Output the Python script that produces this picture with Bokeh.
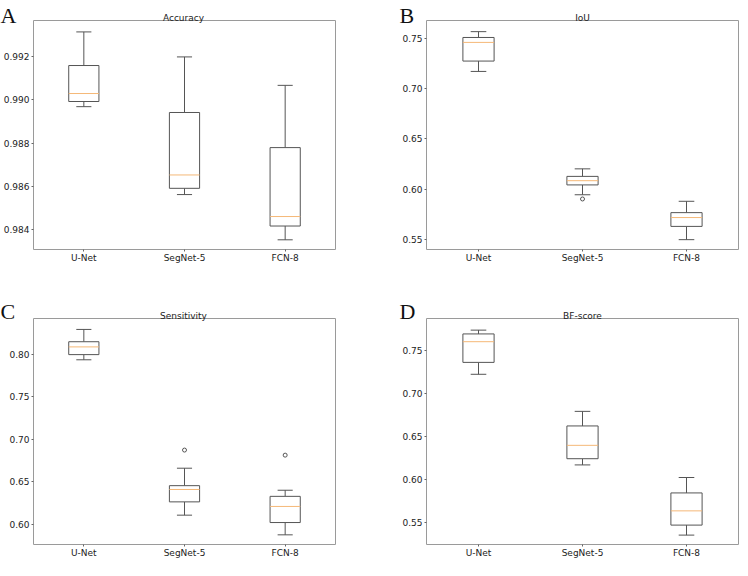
from bokeh.plotting import figure
from bokeh.layouts import gridplot
from bokeh.models import Range1d, FixedTicker, PrintfTickFormatter, Label, ColumnDataSource
from bokeh.embed import file_html
from bokeh.resources import INLINE

# ---------------- data ----------------
categories = ["U-Net", "SegNet-5", "FCN-8"]

acc_lo = [0.98969, 0.98561, 0.98351]
acc_q1 = [0.98993, 0.98590, 0.98415]
acc_med = [0.99030, 0.98652, 0.98459]
acc_q3 = [0.99160, 0.98942, 0.98779]
acc_hi = [0.99316, 0.99200, 0.99068]
acc_out_cat = []
acc_out_val = []
acc_ticks = [0.984, 0.986, 0.988, 0.990, 0.992]

iou_lo = [0.7172, 0.5944, 0.5497]
iou_q1 = [0.7275, 0.6042, 0.5629]
iou_med = [0.7461, 0.6084, 0.5717]
iou_q3 = [0.7510, 0.6127, 0.5766]
iou_hi = [0.7568, 0.6202, 0.5879]
iou_out_cat = ["SegNet-5"]
iou_out_val = [0.5902]
iou_ticks = [0.55, 0.60, 0.65, 0.70, 0.75]

sen_lo = [0.7939, 0.6106, 0.5874]
sen_q1 = [0.8000, 0.6263, 0.6019]
sen_med = [0.8091, 0.6409, 0.6209]
sen_q3 = [0.8152, 0.6454, 0.6328]
sen_hi = [0.8297, 0.6660, 0.6400]
sen_out_cat = ["SegNet-5", "FCN-8"]
sen_out_val = [0.6874, 0.6814]
sen_ticks = [0.60, 0.65, 0.70, 0.75, 0.80]

bf_lo = [0.7219, 0.6168, 0.5354]
bf_q1 = [0.7357, 0.6240, 0.5470]
bf_med = [0.7597, 0.6395, 0.5635]
bf_q3 = [0.7687, 0.6620, 0.5843]
bf_hi = [0.7731, 0.6789, 0.6022]
bf_out_cat = []
bf_out_val = []
bf_ticks = [0.55, 0.60, 0.65, 0.70, 0.75]

# ---------------- styling ----------------
FONT = "DejaVu Sans"
TXT = "#222222"
LINE = "#555555"
FRAME = "#9a9a9a"
MED = "#f5b877"
BOX_W = 0.3
CAP_W = 0.15


def panel(title, letter, lo, q1, med, q3, hi, out_cat, out_val, ticks, fmt,
          yrange, width, height, bl, br, bt, bb, letter_side, lx, ly):
    p = figure(width=width, height=height, output_backend="svg", toolbar_location=None,
               x_range=Range1d(0.5, 3.5), y_range=Range1d(*yrange),
               min_border_left=bl, min_border_right=br, min_border_top=bt, min_border_bottom=bb)
    p.background_fill_color = "white"
    p.border_fill_color = "white"
    p.outline_line_color = FRAME
    p.outline_line_width = 1
    p.xgrid.visible = False
    p.ygrid.visible = False
    p.title.text = ""

    pos = [categories.index(c) + 1 for c in categories]
    src = ColumnDataSource(dict(
        x=pos,
        xl=[v - BOX_W / 2 for v in pos], xr=[v + BOX_W / 2 for v in pos],
        cl=[v - CAP_W / 2 for v in pos], cr=[v + CAP_W / 2 for v in pos],
        lo=lo, q1=q1, med=med, q3=q3, hi=hi))

    p.segment(x0="x", y0="q3", x1="x", y1="hi", source=src, line_color=LINE, line_width=1)
    p.segment(x0="x", y0="q1", x1="x", y1="lo", source=src, line_color=LINE, line_width=1)
    p.segment(x0="cl", y0="hi", x1="cr", y1="hi", source=src, line_color=LINE, line_width=1)
    p.segment(x0="cl", y0="lo", x1="cr", y1="lo", source=src, line_color=LINE, line_width=1)
    p.quad(left="xl", right="xr", bottom="q1", top="q3", source=src,
           fill_color="white", line_color=LINE, line_width=1)
    p.segment(x0="xl", y0="med", x1="xr", y1="med", source=src, line_color=MED, line_width=1)

    if out_val:
        ox = [categories.index(c) + 1 for c in out_cat]
        p.scatter(x=ox, y=out_val, marker="circle", size=4, fill_color=None,
                  line_color=LINE, line_width=1)

    p.xaxis.ticker = FixedTicker(ticks=pos)
    p.xaxis.major_label_overrides = {k: c for k, c in zip(pos, categories)}
    p.yaxis.ticker = FixedTicker(ticks=ticks)
    p.yaxis.formatter = PrintfTickFormatter(format=fmt)
    for ax in (p.xaxis[0], p.yaxis[0]):
        ax.axis_line_color = None
        ax.major_tick_line_color = "#666666"
        ax.major_tick_in = 0
        ax.major_tick_out = 2
        ax.minor_tick_line_color = None
        ax.major_label_text_font = FONT
        ax.major_label_text_font_size = "9px"
        ax.major_label_text_color = TXT
    p.xaxis.major_label_standoff = 1
    p.yaxis.major_label_standoff = 2

    # metric title, centred over the frame, baseline just above it (canvas pixels)
    frame_w = width - bl - br
    p.add_layout(Label(x=bl + frame_w / 2, y=bt - 3, x_units="canvas", y_units="canvas",
                       text=title, text_font=FONT, text_font_size="9px", text_color=TXT,
                       text_baseline="alphabetic", text_align="center"), "above")

    # panel letter, positioned in canvas pixels
    p.add_layout(Label(x=lx, y=ly, x_units="canvas", y_units="canvas", text=letter,
                       text_font="Liberation Serif", text_font_size="22px",
                       text_color="#111111", text_baseline="alphabetic", text_align="left"),
                 letter_side)
    return p


W = 370
H_TOP = 294
H_BOT = 266

pA = panel("Accuracy", "A", acc_lo, acc_q1, acc_med, acc_q3, acc_hi, acc_out_cat, acc_out_val,
           acc_ticks, "%.3f", (0.98306, 0.99369), W, H_TOP, 31, 35, 20, 45, "right", 0, 15)
pB = panel("IoU", "B", iou_lo, iou_q1, iou_med, iou_q3, iou_hi, iou_out_cat, iou_out_val,
           iou_ticks, "%.2f", (0.5399, 0.7679), W, H_TOP, 56, 2, 20, 45, "left", 29, 15)
pC = panel("Sensitivity", "C", sen_lo, sen_q1, sen_med, sen_q3, sen_hi, sen_out_cat, sen_out_val,
           sen_ticks, "%.2f", (0.576, 0.8426), W, H_BOT, 31, 35, 24, 15, "right", 0, 17)
pD = panel("BF-score", "D", bf_lo, bf_q1, bf_med, bf_q3, bf_hi, bf_out_cat, bf_out_val,
           bf_ticks, "%.2f", (0.5245, 0.7866), W, H_BOT, 56, 2, 24, 15, "left", 29, 17)

grid = gridplot([[pA, pB], [pC, pD]], toolbar_location=None)

open("out.html", "w").write(file_html(grid, INLINE))
